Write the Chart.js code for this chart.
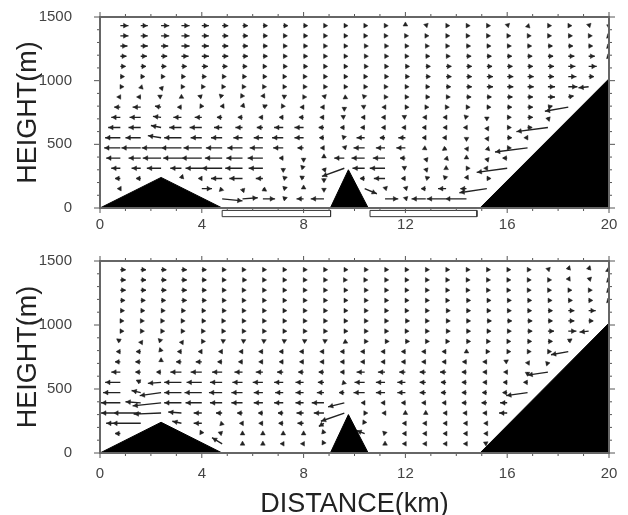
<!DOCTYPE html>
<html>
<head>
<meta charset="utf-8">
<style>
  html, body { margin: 0; padding: 0; background: #fff; }
  #wrap { position: relative; width: 628px; height: 515px; overflow: hidden; }
  canvas { position: absolute; left: 0; filter: blur(0.6px); }
</style>
<script src="https://cdn.jsdelivr.net/npm/chart.js@4/dist/chart.umd.min.js"></script>
</head>
<body>
<div id="wrap">
  <canvas id="topChart" style="top:-10px"></canvas>
  <canvas id="bottomChart" style="top:235px"></canvas>
</div>
<script>
const _ = null;

// grid of the wind vectors: km along the section, m above ground (top row first)
const columns = [0.8,1.6,2.4,3.2,4,4.8,5.6,6.4,7.2,8,8.8,9.6,10.4,11.2,12,12.8,13.6,14.4,15.2,16,16.8,17.6,18.4,19.2,20];
const rows = [1432,1352,1272,1192,1112,1032,952,872,792,712,632,552,472,392,312,232,152,72];

// terrain outline
const hillX = [0, 2.4, 4.8];
const hillY = [0, 240, 0];
const peakX = [9.05, 9.76, 10.54];
const peakY = [0, 300, 0];
const slopeX = [14.93, 20];
const slopeY = [0, 1015];

// open boxes under the top panel
const boxA = [[4.8, -19], [9.06, -19], [9.06, -68], [4.8, -68], [4.8, -19]];
const boxB = [[10.61, -19], [14.81, -19], [14.81, -68], [10.61, -68], [10.61, -19]];

// top panel, along-section component
const uTop = [
  [8,7,8,8,7,6,5,4,4,3,2,2,1,1,0,1,2,2,2,1,1,2,2,1,0],
  [8,7,8,8,7,6,5,4,3,3,2,2,1,1,1,1,2,2,2,2,2,2,3,2,-1],
  [7,7,7,8,7,6,5,4,3,3,2,2,2,2,2,2,2,3,3,3,3,4,4,3,-1],
  [6,6,6,7,7,6,5,4,3,3,2,2,2,2,2,3,3,4,4,4,4,5,6,6,-1],
  [5,5,5,5,6,5,4,3,3,3,2,2,2,2,3,4,5,5,5,5,5,6,7,8],
  [3,3,3,3,4,3,3,3,2,2,2,2,1,2,3,4,5,5,6,6,6,6,8,5],
  [2,1,1,2,2,2,2,2,2,2,2,2,1,1,2,3,4,5,6,6,6,7,9,-10],
  [-2,-3,-2,0,-3,-2,-1,1,2,1,1,2,-1,1,2,3,3,4,4,5,5,7,5],
  [-6,-8,-6,-3,-1,1,1,4,-1,-2,-2,0,-2,-1,2,1,1,2,3,4,5,4,-23],
  [-9,-11,-8,-8,-7,-5,-4,-3,-3,-4,-3,-2,-2,-2,-2,-1,-1,-1,0,3,5,1],
  [-12,-12,-10,-12,-12,-8,-7,-6,-9,-9,-5,-3,-3,-2,-2,-2,-1,-1,1,3,4,-31],
  [-15,-15,-13,-17,-11,-11,-9,-9,-11,-9,-4,-1,-8,-5,-7,-2,-2,0,1,4,-2],
  [-16,-19,-19,-20,-18,-16,-15,-13,-10,-6,-2,1,-11,-9,-9,-2,-3,1,2,3,-32],
  [-14,-12,-18,-18,-20,-17,-16,-15,-3,0,0,-10,-13,-12,-5,1,1,0,1,-4],
  [-9,-9,-14,-11,-16,-20,-17,-14,0,-2,1,-22,-12,-15,-2,1,0,2,-1,-30],
  [-5,-4,_,1,-2,-11,-13,-7,3,-3,0,_,-4,-11,-3,3,-2,1,3],
  [-1,_,_,_,10,-2,1,3,3,0,0,_,12,1,1,-4,-8,-6,-27],
  [_,_,_,_,_,20,15,12,3,-7,-13,_,_,13,1,-14,-19,-21],
];

// top panel, vertical component (missing entries mean 0)
const wTop = [
  [0,0,0,0,0,0,0,0,0,0,0,0,0,0,2,1,0,0,0,1,-1,0,0,1,-1],
  [0,0,0,0,0,0,0,0,0,0,0,0,0,0,0,0,0,0,0,0,0,0,0,0,-1],
  [0,0,0,0,0,0,0,0,0,0,0,0,0,0,0,0,0,0,0,0,0,0,0,0,-1],
  [0,0,0,0,0,0,0,0,0,0,0,0,0,0,0,0,0,0,0,0,0,0,0,0,-1],
  [],
  [],
  [0,-1,-3,0,0,0,0,0,0,0,0,0,0,0,0,0,0,0,0,0,0,0,0,-1],
  [0,0,1,0,1,2,2,2,1,0,1,-1,1,0,0,0,0,0,0,0,0,0,1],
  [0,0,1,0,2,2,3,2,2,0,0,-3,1,0,0,0,0,0,0,0,0,1,-4],
  [0,0,1,0,0,0,0,0,0,0,0,1,0,0,1,0,0,1,-2,0,0,-3],
  [0,0,2,0,0,0,0,0,0,0,0,0,0,0,0,0,0,0,-2,0,0,-4],
  [0,0,2,0,0,0,0,0,0,0,0,1,0,0,0,0,0,-2,-2,0,0],
  [0,0,0,0,0,0,0,0,0,0,0,1,0,0,0,-1,-2,-2,-2,0,-4],
  [0,0,0,0,0,0,0,0,0,-3,3,0,0,0,0,-3,-1,1,-3,0],
  [0,0,0,0,0,0,0,0,-3,2,-3,-8,0,0,1,-3,0,0,0,-4],
  [0,0,_,3,0,0,0,0,1,2,-3,_,0,0,0,1,2,2,0],
  [0,_,_,_,0,-2,-3,-2,1,2,-2,_,-5,1,1,0,0,0,-4],
  [_,_,_,_,_,-2,1,0,1,0,0,_,_,0,1,0,0,0],
];

// bottom panel, along-section component
const uBottom = [
  [5,5,5,5,4,3,2,2,2,2,2,2,2,2,2,2,2,2,2,2,2,1,1,1,-2],
  [5,5,5,5,4,3,3,2,2,2,2,1,1,2,2,2,2,2,2,2,2,2,1,2,-1],
  [5,5,5,5,4,3,2,2,2,2,2,2,2,2,2,2,2,2,2,2,2,2,2,2,-1],
  [4,4,4,5,4,3,2,2,2,2,2,2,2,2,2,2,2,3,3,3,3,3,3,3,-1],
  [3,3,3,3,3,3,2,2,2,2,2,2,2,2,2,2,3,3,3,3,3,4,6,7],
  [2,2,2,2,3,2,2,2,2,2,2,2,2,2,3,2,3,3,4,4,4,4,6,4],
  [2,2,2,2,2,2,2,2,2,2,2,2,2,2,2,2,3,3,3,3,4,6,8,-9],
  [-3,1,-2,1,2,2,2,2,2,2,2,2,2,3,3,2,2,3,2,2,3,4,3],
  [-3,-4,-1,-3,-2,-2,-2,-3,-3,-3,-3,-3,-3,-3,-3,-3,-3,0,1,2,2,2,-17],
  [-5,-5,0,-5,-6,-4,-3,-3,-3,-3,-3,-3,-3,-3,-3,-3,-3,-3,-3,-2,1,-1],
  [-9,-5,-4,-11,-11,-10,-8,-7,-6,-5,-5,-3,-8,-7,-6,-6,-6,-4,-3,-2,0,-20],
  [-15,-4,-13,-17,-15,-12,-10,-10,-9,-8,-6,-1,-10,-9,-8,-6,-5,-4,-3,-3,-3],
  [-17,-9,-21,-17,-17,-13,-11,-9,-8,-8,-7,-5,-11,-9,-8,-6,-5,-4,-4,-4,-21],
  [-19,-15,-28,-17,-16,-12,-11,-9,-9,-8,-12,-16,-2,-3,-3,-3,-3,-4,-5,-7],
  [-19,-27,-27,-13,-8,-6,-5,-4,-5,-7,-10,-23,1,-1,0,0,-1,-2,-3,-8],
  [-14,-28,_,-9,-8,-1,-1,-3,-4,-6,-5,_,-1,_,-1,-1,-1,-1,-1],
  [-5,_,_,_,-1,-3,0,0,0,0,-1,_,-8,-1,-1,-1,-1,-1,-1],
  [_,_,_,_,_,-10,0,0,-1,-1,-1,_,_,0,-1,-1,-1,-1,-2],
];

// bottom panel, vertical component
const wBottom = [
  [0,0,0,0,0,0,0,0,0,0,0,0,0,0,0,0,0,0,0,0,0,1,3,3,-1],
  [0,0,0,0,0,0,0,0,0,0,0,0,0,0,0,0,0,0,0,0,0,0,2,2,-1],
  [0,0,0,0,0,0,0,0,0,0,0,0,0,0,0,0,0,0,0,0,0,0,0,0,-1],
  [0,0,0,0,0,0,0,0,0,0,0,0,0,0,0,0,0,0,0,0,0,0,0,0,-1],
  [],
  [],
  [0,0,0,0,0,0,0,0,0,0,0,0,0,0,0,0,0,0,0,0,0,0,0,-1],
  [2,-2,2,-2,0,1,1,1,1,1,1,-1,0,0,0,0,0,0,0,0,0,0,2],
  [0,0,3,0,0,0,0,0,0,0,0,0,0,0,0,0,0,0,0,0,0,0,-3],
  [0,0,3,0,0,0,0,0,0,0,0,0,0,0,0,0,0,0,0,1,-2,-3],
  [0,0,0,0,0,0,0,0,0,0,0,0,0,0,0,0,0,0,0,0,-3,-3],
  [0,2,-1,0,0,0,0,0,0,0,0,-1],
  [0,2,-3,0,0,0,0,0,0,0,0,0,0,0,0,0,0,0,0,0,-3],
  [0,1,-3,0,0,0,0,0,0,0,0,-4],
  [0,0,-1,1,0,0,0,0,0,0,0,-8],
  [0,0,_,2,0,-1,0,0,0,0,-3,_,2],
  [0,_,_,_,2,1,0,0,0,0,3,_,3,1],
  [_,_,_,_,_,6,0,0,0,0,2,_,_,0,0,0,0,0,1],
];

// 1 unit of u draws as 0.04 km, 1 unit of w as 8 m, both about 1px
const kmPerUnit = 0.04;
const mPerUnit = 8;
// triangle centre sits this many units behind the arrow tip, at most half way
const headBack = 3.5;

const xLabels = [0, 4, 8, 12, 16, 20];
const yLabels = [0, 500, 1000, 1500];

const pair = (xs, ys) => xs.map((x, i) => ({ x, y: ys[i] }));

const buildArrows = (us, ws) => {
  const shafts = [];
  const heads = [];
  rows.forEach((height, r) => {
    columns.forEach((dist, c) => {
      const u = us[r][c];
      if (u === null || u === undefined) return;
      const w = ws[r][c] || 0;
      const len = Math.hypot(u, w) || 1;
      const back = Math.min(headBack, len / 2) / len;
      shafts.push(
        { x: dist, y: height },
        { x: dist + u * kmPerUnit, y: height + w * mPerUnit },
        { x: NaN, y: NaN }
      );
      heads.push({
        x: dist + u * (1 - back) * kmPerUnit,
        y: height + w * (1 - back) * mPerUnit,
        deg: (Math.atan2(u, w) * 180) / Math.PI,
      });
    });
  });
  return { shafts, heads };
};

// GMT style frame with ticks on all four sides
const framePlugin = {
  id: "frame",
  afterDatasetsDraw(chart) {
    const { ctx, chartArea: a, scales } = chart;
    ctx.save();
    ctx.strokeStyle = "#555";
    ctx.lineWidth = 1;
    scales.x.ticks.forEach((t) => {
      const px = scales.x.getPixelForValue(t.value);
      const len = xLabels.includes(t.value) ? 5 : 3;
      ctx.beginPath();
      ctx.moveTo(px, a.bottom);
      ctx.lineTo(px, a.bottom + len);
      ctx.moveTo(px, a.top);
      ctx.lineTo(px, a.top - len);
      ctx.stroke();
    });
    scales.y.ticks.forEach((t) => {
      const py = scales.y.getPixelForValue(t.value);
      const len = yLabels.includes(t.value) ? 6 : 3;
      ctx.beginPath();
      ctx.moveTo(a.left, py);
      ctx.lineTo(a.left - len, py);
      ctx.moveTo(a.right, py);
      ctx.lineTo(a.right + len, py);
      ctx.stroke();
    });
    ctx.lineWidth = 2;
    ctx.strokeStyle = "#666";
    ctx.strokeRect(a.left, a.top, a.right - a.left, a.bottom - a.top);
    ctx.restore();
  },
};

const makePanel = (id, height, topGap, axisHeight, xPad, us, ws, showBoxes, showXTitle) => {
  const canvas = document.getElementById(id);
  canvas.width = 628;
  canvas.height = height;
  canvas.style.width = "628px";
  canvas.style.height = height + "px";
  const { shafts, heads } = buildArrows(us, ws);

  const terrain = (data) => ({
    data,
    borderColor: "#000",
    borderWidth: 1,
    backgroundColor: "#000",
    fill: "origin",
    pointRadius: 0,
    showLine: true,
  });
  const box = (pts) => ({
    data: pts.map(([x, y]) => ({ x, y })),
    borderColor: "#333",
    borderWidth: 1,
    pointRadius: 0,
    showLine: true,
    clip: false,
  });

  const datasets = [
    terrain(pair(hillX, hillY)),
    terrain(pair(peakX, peakY)),
    terrain(pair(slopeX, slopeY)),
    {
      data: shafts,
      borderColor: "#222",
      borderWidth: 1.4,
      pointRadius: 0,
      showLine: true,
      spanGaps: false,
    },
    {
      data: heads,
      showLine: false,
      pointStyle: "triangle",
      pointRadius: 2.7,
      pointRotation: (c) => (c.raw ? c.raw.deg : 0),
      backgroundColor: "#222",
      borderColor: "#222",
      borderWidth: 0.5,
    },
  ];
  if (showBoxes) datasets.push(box(boxA), box(boxB));

  return new Chart(canvas, {
    type: "scatter",
    data: { datasets },
    plugins: [framePlugin],
    options: {
      responsive: false,
      animation: false,
      layout: { padding: { top: topGap, right: 19, left: 0, bottom: 0 } },
      plugins: { legend: { display: false }, tooltip: { enabled: false } },
      scales: {
        x: {
          type: "linear",
          min: 0,
          max: 20,
          // keep the plot area fixed, labels may overhang it
          afterFit: (s) => { s.height = axisHeight; s.paddingLeft = 0; s.paddingRight = 0; },
          grid: { display: false },
          border: { display: false },
          title: {
            display: showXTitle,
            text: "DISTANCE(km)",
            color: "#222",
            font: { family: "Liberation Sans", size: 27, lineHeight: 1 },
            padding: { top: 0, bottom: 0 },
          },
          ticks: {
            stepSize: 1,
            autoSkip: false,
            maxRotation: 0,
            padding: xPad,
            color: "#444",
            font: { family: "Liberation Sans", size: 15 },
            callback: (v) => (xLabels.includes(v) ? String(v) : ""),
          },
        },
        y: {
          min: 0,
          max: 1500,
          afterFit: (s) => { s.width = 100; s.paddingTop = 0; s.paddingBottom = 0; },
          grid: { display: false },
          border: { display: false },
          title: {
            display: true,
            text: "HEIGHT(m)",
            color: "#222",
            font: { family: "Liberation Sans", size: 27, lineHeight: 1 },
            padding: { top: 15, bottom: 0 },
          },
          ticks: {
            stepSize: 100,
            autoSkip: false,
            padding: 20,
            color: "#444",
            font: { family: "Liberation Sans", size: 15 },
            callback: (v) => (yLabels.includes(v) ? String(v) : ""),
          },
        },
      },
    },
  });
};

makePanel("topChart", 245, 27, 27, 0, uTop, wTop, true, false);
makePanel("bottomChart", 283, 26, 65, 4, uBottom, wBottom, false, true);
</script>
</body>
</html>
